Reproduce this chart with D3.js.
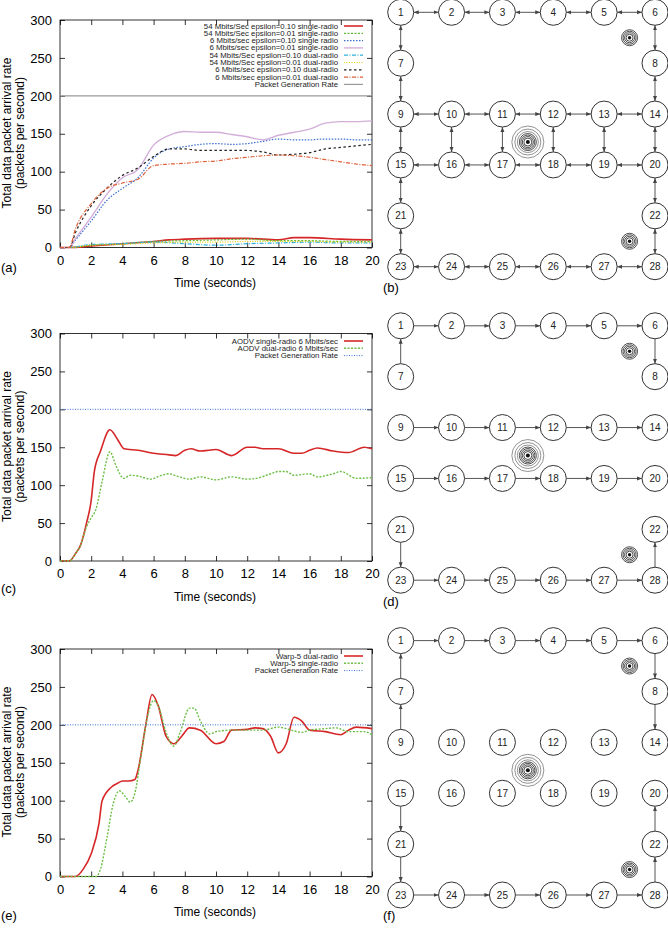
<!DOCTYPE html>
<html><head><meta charset="utf-8">
<script src="https://cdn.jsdelivr.net/npm/d3@7"></script>
<style>body{margin:0;background:#fff}svg text{font-family:"Liberation Sans",Arial,sans-serif}</style>
</head><body>
<script>
// ---- data ----
const xTicks = [0,2,4,6,8,10,12,14,16,18,20];
const yTicks = [0,50,100,150,200,250,300];

const aRed    = [[0,0],[0.6,0],[2,2],[4,5],[6,8],[7,10],[8,11],[10,12],[12,12],[14,10],[15,13],[16,13],[18,11],[20,10]];
const aGreen  = [[0,0],[0.6,0],[2,3],[4,5],[6,8],[8,9],[10,10],[12,11],[14,9],[16,9],[18,8],[20,8]];
const aBlue   = [[0,0],[0.6,0],[1,10],[2,35],[3,62],[4,78],[5,92],[6,118],[7,130],[8,133],[9,136],[10,137],[11,136],[12,137],[13,140],[14,143],[15,142],[16,142],[17,143],[18,143],[19,142],[20,142]];
const aPink   = [[0,0],[0.6,0],[1,12],[2,40],[3,70],[4,92],[5,103],[6,135],[7,148],[8,153],[9,152],[10,152],[11,149],[12,146],[13,142],[14,148],[15,152],[16,156],[17,164],[18,166],[19,166],[20,167]];
const aCyan   = [[0,0],[0.6,0],[2,4],[4,5],[6,7],[8,5],[10,3],[12,5],[14,6],[16,7],[18,6],[20,6]];
const aYellow = [[0,0],[0.6,0],[2,3],[4,4],[6,6],[8,7],[10,7],[12,8],[14,8],[16,8],[18,7],[20,7]];
const aBlack  = [[0,0],[0.6,0],[1,20],[2,55],[3,78],[4,95],[5,105],[6,120],[7,130],[8,130],[9,128],[10,128],[11,128],[12,128],[13,126],[14,122],[15,123],[16,125],[17,130],[18,132],[19,134],[20,136]];
const aOrange = [[0,0],[0.6,0],[1,25],[2,58],[3,78],[4,85],[5,90],[6,108],[7,110],[8,111],[9,113],[10,114],[11,117],[12,119],[13,121],[14,122],[15,121],[16,119],[17,116],[18,113],[19,110],[20,108]];
const genRate = [[0,200],[20,200]];

const cRed = [[0,0],[0.6,0],[1,10],[1.3,20],[1.7,50],[2,80],[2.2,118],[2.6,145],[3.2,173],[3.7,160],[4.1,148],[5,146],[6,142],[7,140],[7.4,139],[8,146],[8.4,148],[9,145],[9.5,146],[10,147],[11,139],[12,150],[12.5,150],[13,148],[14,148],[15,142],[15.5,142],[16,146],[16.5,149],[17.5,145],[18.5,143],[19.5,150],[20,148]];
const cGreen = [[0,0],[0.6,0],[1,10],[1.3,20],[1.7,45],[2,57],[2.3,68],[2.7,105],[3.2,144],[3.6,125],[4.1,109],[4.5,113],[5,112],[5.8,108],[6.5,113],[7,115],[7.5,112],[8.3,108],[9,111],[10,107],[11,111],[12,108],[12.6,109],[13.5,115],[14,118],[14.5,118],[15,113],[16,115],[16.5,111],[17.5,115],[18,118],[19,109],[20,110]];

const eRed = [[0,0],[1,0],[1.5,10],[2,30],[2.5,70],[2.7,100],[3.3,118],[3.7,123],[4,126],[4.4,126],[4.8,128],[5,140],[5.5,200],[5.9,240],[6.3,225],[6.8,185],[7.3,175],[7.8,185],[8.3,196],[9,193],[10,175],[10.5,178],[11,193],[12,194],[12.5,196],[13,195],[13.5,185],[14,163],[14.5,175],[15,210],[15.5,205],[16,193],[17,191],[18,187],[18.5,193],[19,197],[20,195]];
const eGreen = [[0,0],[2.3,0],[2.6,10],[3,50],[3.4,95],[3.8,113],[4.2,105],[4.5,98],[4.8,110],[5.2,160],[5.6,210],[6,232],[6.3,225],[6.8,190],[7.3,172],[7.7,190],[8.3,222],[8.6,222],[9,205],[9.6,188],[10,191],[11,193],[12,193],[13,193],[14,197],[15,192],[15.5,190],[16,193],[17,195],[17.7,196],[18.5,191],[19.5,191],[20,187]];

// network: node column / row on the 6x6 grid
const nodeIds = d3.range(1,29);
const nodeCol = [0,1,2,3,4,5, 0,5, 0,1,2,3,4,5, 0,1,2,3,4,5, 0,5, 0,1,2,3,4,5];
const nodeRow = [0,0,0,0,0,0, 1,1, 2,2,2,2,2,2, 3,3,3,3,3,3, 4,4, 5,5,5,5,5,5];
const linksB = [[1,2],[2,3],[3,4],[4,5],[5,6],[1,7],[7,9],[6,8],[8,14],[9,10],[10,11],[11,12],[12,13],[13,14],
  [15,16],[16,17],[17,18],[18,19],[19,20],[9,15],[10,16],[11,17],[12,18],[13,19],[14,20],[15,21],[21,23],[20,22],[22,28],
  [23,24],[24,25],[25,26],[26,27],[27,28]];
const linksD = [[1,2],[2,3],[3,4],[4,5],[5,6],[7,1],[6,8],[9,10],[10,11],[11,12],[12,13],[13,14],
  [15,16],[16,17],[17,18],[18,19],[19,20],[21,23],[23,24],[24,25],[25,26],[26,27],[27,28],[28,22]];
const linksF = [[1,2],[2,3],[3,4],[4,5],[5,6],[7,1],[9,7],[6,8],[8,14],[15,21],[21,23],[23,24],[24,25],[25,26],[26,27],[27,28],[28,22],[22,20]];
const jammers = [[2.5,2.55,"big"],[4.5,0.5,"small"],[4.5,4.5,"small"]];

// ---- drawing ----
const svg = d3.select("body").append("svg").attr("width",668).attr("height",930);
const defs = svg.append("defs");
defs.append("marker").attr("id","ah").attr("viewBox","0 0 10 10").attr("refX",10).attr("refY",5)
  .attr("markerWidth",5).attr("markerHeight",5).attr("orient","auto-start-reverse")
  .append("path").attr("d","M0,1L10,5L0,9Z").attr("fill","#444");

function plot(top, label, series, legendY, labelY) {
  const g = svg.append("g");
  const x = d3.scaleLinear().domain([0,20]).range([60,372]);
  const y = d3.scaleLinear().domain([0,300]).range([top+227.5, top]);
  g.append("rect").attr("x",60).attr("y",top).attr("width",312).attr("height",227.5)
    .attr("fill","none").attr("stroke","#000").attr("stroke-width",0.8);
  const tk = (sel) => sel.call(s => s.select(".domain").remove())
    .call(s => s.selectAll("line").attr("stroke","#000").attr("stroke-width",0.8))
    .call(s => s.selectAll("text").attr("font-size",13).attr("fill","#000"));
  g.append("g").attr("transform",`translate(0,${top+227.5})`)
    .call(d3.axisBottom(x).tickValues(xTicks).tickSize(-5).tickPadding(8)).call(tk);
  g.append("g").attr("transform",`translate(0,${top})`)
    .call(d3.axisTop(x).tickValues(xTicks).tickSize(-5).tickFormat("")).call(tk);
  g.append("g").attr("transform","translate(60,0)")
    .call(d3.axisLeft(y).tickValues(yTicks).tickSize(-5).tickPadding(8)).call(tk);
  g.append("g").attr("transform","translate(372,0)")
    .call(d3.axisRight(y).tickValues(yTicks).tickSize(-5).tickFormat("")).call(tk);
  g.append("text").attr("x",215).attr("y",top+267).attr("text-anchor","middle").attr("font-size",12).text("Time (seconds)");
  const yl = g.append("text").attr("transform",`translate(11,${top+113}) rotate(-90)`).attr("text-anchor","middle").attr("font-size",12);
  yl.append("tspan").attr("x",0).attr("dy",0).text("Total data packet arrival rate");
  yl.append("tspan").attr("x",0).attr("dy",12.5).text("(packets per second)");
  g.append("text").attr("x",1).attr("y",labelY).attr("font-family","Liberation Serif,serif").attr("font-size",13).text(label);
  const line = d3.line().x(d => x(d[0])).y(d => y(d[1])).curve(d3.curveMonotoneX);
  series.forEach((s,i) => {
    g.append("path").datum(s.data).attr("d",line).attr("fill","none").attr("stroke",s.color)
      .attr("stroke-width",s.w||1.2).attr("stroke-dasharray",s.dash||null);
    const ly = legendY + i*7.3;
    g.append("text").attr("x",338).attr("y",ly+2.5).attr("text-anchor","end").attr("font-size",7.8).attr("fill","#222").text(s.name);
    g.append("line").attr("x1",344).attr("x2",363).attr("y1",ly).attr("y2",ly).attr("stroke",s.color)
      .attr("stroke-width",s.w||1.2).attr("stroke-dasharray",s.dash||null);
  });
}

plot(20, "(a)", [
  {name:"54 Mbits/Sec epsilon=0.10 single-radio", data:aRed, color:"#d62728", w:1.6},
  {name:"54 Mbits/Sec epsilon=0.01 single-radio", data:aGreen, color:"#5fb83a", dash:"2,1.5"},
  {name:"6 Mbits/sec epsilon=0.10 single radio", data:aBlue, color:"#3a6fd0", dash:"1.5,1.5"},
  {name:"6 Mbits/sec epsilon=0.01 single-radio", data:aPink, color:"#d2aed8", w:1.4},
  {name:"54 Mbits/Sec epsilon=0.10 dual-radio", data:aCyan, color:"#2fb0e0", dash:"4,1.5,1,1.5"},
  {name:"54 Mbits/Sec epsilon=0.01 dual-radio", data:aYellow, color:"#e8d000", dash:"1,1.5"},
  {name:"6 Mbits/sec epsilon=0.10 dual-radio", data:aBlack, color:"#222", dash:"2.5,2.5"},
  {name:"6 Mbits/sec epsilon=0.01 dual-radio", data:aOrange, color:"#e0603a", dash:"4,1.5,1,1.5"},
  {name:"Packet Generation Rate", data:genRate, color:"#999", w:1.2}
], 26, 272);

plot(333.5, "(c)", [
  {name:"AODV single-radio 6 Mbits/sec", data:cRed, color:"#d62728", w:1.6},
  {name:"AODV dual-radio 6 Mbits/sec", data:cGreen, color:"#6cbf45", w:1.4, dash:"2,1.5"},
  {name:"Packet Generation Rate", data:genRate, color:"#3a6fd0", w:1, dash:"1,1.5"}
], 341, 593);

plot(649, "(e)", [
  {name:"Warp-5 dual-radio", data:eRed, color:"#d62728", w:1.6},
  {name:"Warp-5 single-radio", data:eGreen, color:"#6cbf45", w:1.4, dash:"2,1.5"},
  {name:"Packet Generation Rate", data:genRate, color:"#3a6fd0", w:1, dash:"1,1.5"}
], 656, 920);

function network(off, label, links, both, labelY) {
  const g = svg.append("g");
  const cx = d3.scaleLinear().domain([0,5]).range([400.7,655]);
  const cy = d3.scaleLinear().domain([0,5]).range([12.3+off,266.7+off]);
  const r = 13;
  const pos = id => [cx(nodeCol[id-1]), cy(nodeRow[id-1])];
  links.forEach(([a,b]) => {
    const [x1,y1] = pos(a), [x2,y2] = pos(b);
    const L = Math.hypot(x2-x1,y2-y1), ux = (x2-x1)/L, uy = (y2-y1)/L;
    const ln = g.append("line").attr("x1",x1+ux*r).attr("y1",y1+uy*r).attr("x2",x2-ux*r).attr("y2",y2-uy*r)
      .attr("stroke","#555").attr("stroke-width",1).attr("marker-end","url(#ah)");
    if (both) ln.attr("marker-start","url(#ah)");
  });
  jammers.forEach(([c,rw,type]) => {
    const jx = cx(c), jy = cy(rw);
    const radii = type==="big" ? [16,13,10.5,8.5,7,5.5,4] : [8,6.5,5,3.5];
    radii.forEach(rr => g.append("circle").attr("cx",jx).attr("cy",jy).attr("r",rr)
      .attr("fill","none").attr("stroke", rr>9 ? "#777" : "#222").attr("stroke-width",0.8));
    g.append("circle").attr("cx",jx).attr("cy",jy).attr("r",type==="big"?2:1.7).attr("fill","#111");
  });
  nodeIds.forEach(id => {
    const [x,y] = pos(id);
    g.append("circle").attr("cx",x).attr("cy",y).attr("r",r).attr("fill","#fff").attr("stroke","#333").attr("stroke-width",1);
    g.append("text").attr("x",x).attr("y",y+3.5).attr("text-anchor","middle").attr("font-size",10)
      .attr("font-family","DejaVu Sans,sans-serif").attr("fill","#222").text(id);
  });
  g.append("text").attr("x",383).attr("y",labelY).attr("font-family","Liberation Serif,serif").attr("font-size",13).text(label);
}

network(0, "(b)", linksB, true, 292);
network(313.5, "(d)", linksD, false, 606);
network(628.3, "(f)", linksF, false, 920);
</script>
</body></html>
